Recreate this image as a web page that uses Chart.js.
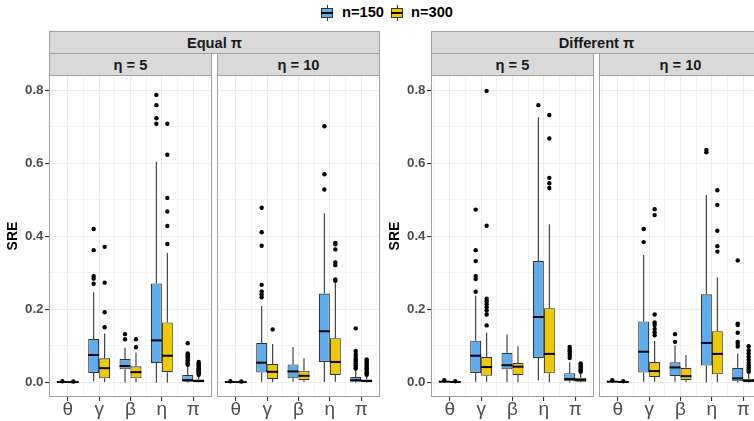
<!DOCTYPE html>
<html><head><meta charset="utf-8">
<script src="https://cdn.jsdelivr.net/npm/chart.js@4.4.1/dist/chart.umd.min.js"></script>
<style>
html,body{margin:0;padding:0;width:754px;height:421px;overflow:hidden;background:#fff;font-family:'Liberation Sans',Arial,sans-serif;}
.strip{position:absolute;box-sizing:border-box;background:#D9D9D9;border:1px solid #A0A0A0;color:#1A1A1A;font-weight:bold;font-size:14.67px;display:flex;align-items:center;justify-content:center;white-space:nowrap;}
canvas{position:absolute;top:75px;}
.lg{position:absolute;top:4px;font-weight:bold;font-size:14.67px;line-height:17px;color:#000;}
.key{position:absolute;top:5px;width:12px;height:16px;}
.key .wh{position:absolute;left:5.5px;top:0;width:1px;height:16px;background:#333;}
.key .bx{position:absolute;left:0;top:3px;width:12px;height:10px;box-sizing:border-box;border:1px solid #333;}
.key .md{position:absolute;left:0;top:7.2px;width:12px;height:1.6px;background:#000;}
</style></head>
<body>
<div class="key" style="left:321px"><div class="wh"></div><div class="bx" style="background:#5CACEE"></div><div class="md"></div></div>
<div class="lg" style="left:342px">n=150</div>
<div class="key" style="left:391px"><div class="wh"></div><div class="bx" style="background:#EEC900"></div><div class="md"></div></div>
<div class="lg" style="left:411px">n=300</div>

<div class="strip" style="left:49px;top:31px;width:331px;height:23px">Equal π</div>
<div class="strip" style="left:49px;top:53px;width:163px;height:23px">η = 5</div>
<div class="strip" style="left:217px;top:53px;width:163px;height:23px">η = 10</div>
<div class="strip" style="left:431px;top:31px;width:331px;height:23px">Different π</div>
<div class="strip" style="left:431px;top:53px;width:163px;height:23px">η = 5</div>
<div class="strip" style="left:599px;top:53px;width:163px;height:23px">η = 10</div>

<canvas id="c1" width="212" height="346" style="left:0px"></canvas>
<canvas id="c2" width="163" height="346" style="left:217px"></canvas>
<canvas id="c3" width="212" height="346" style="left:382px"></canvas>
<canvas id="c4" width="163" height="346" style="left:599px"></canvas>

<script>
const categories = ['θ', 'γ', 'β', 'η', 'π'];
const seriesLabels = ['n=150', 'n=300'];
const seriesColors = ['#5CACEE', '#EEC900'];

// box statistics per category: [lower whisker, Q1, median, Q3, upper whisker]
// Equal π, η = 5
const eq5_150 = [[0, 0.0005, 0.001, 0.0015, 0.002], [0.003, 0.026, 0.075, 0.119, 0.247], [0.000, 0.036, 0.045, 0.064, 0.095], [0.000, 0.053, 0.115, 0.271, 0.604], [0.000, 0.002, 0.006, 0.020, 0.045]];
const eq5_150_out = [[0.003], [0.420, 0.362, 0.291, 0.284, 0.270], [0.132, 0.118], [0.787, 0.759, 0.723, 0.708], [0.107, 0.079, 0.076, 0.072, 0.068, 0.064, 0.060, 0.056, 0.052, 0.048]];
const eq5_300 = [[0, 0.0004, 0.0008, 0.0012, 0.002], [0.001, 0.011, 0.039, 0.066, 0.134], [0.001, 0.011, 0.028, 0.044, 0.082], [0.000, 0.028, 0.073, 0.164, 0.354], [0.000, 0.001, 0.004, 0.008, 0.018]];
const eq5_300_out = [[0.0025], [0.371, 0.273, 0.192, 0.151], [0.118, 0.096], [0.708, 0.623, 0.505, 0.468, 0.428, 0.379], [0.056, 0.052, 0.048, 0.045, 0.042, 0.039, 0.036, 0.033, 0.030, 0.027, 0.024, 0.021]];
// Equal π, η = 10
const eq10_150 = [[0, 0.0005, 0.001, 0.0015, 0.002], [0.002, 0.027, 0.054, 0.108, 0.209], [0.002, 0.011, 0.030, 0.049, 0.097], [0.001, 0.056, 0.140, 0.243, 0.463], [0.000, 0.002, 0.006, 0.015, 0.035]];
const eq10_150_out = [[0.003], [0.478, 0.411, 0.374, 0.267, 0.249, 0.241, 0.233], [], [0.701, 0.570, 0.528], [0.148, 0.086, 0.078, 0.072, 0.067, 0.062, 0.057, 0.052, 0.047, 0.042, 0.038]];
const eq10_300 = [[0, 0.0004, 0.0008, 0.0012, 0.002], [0.001, 0.009, 0.029, 0.050, 0.105], [0.001, 0.006, 0.018, 0.032, 0.066], [0.002, 0.020, 0.056, 0.121, 0.272], [0.000, 0.001, 0.004, 0.008, 0.018]];
const eq10_300_out = [[0.0025], [0.145], [], [0.382, 0.378, 0.364, 0.328, 0.321, 0.282, 0.278], [0.063, 0.059, 0.055, 0.051, 0.047, 0.043, 0.039, 0.035, 0.031, 0.027, 0.024, 0.021]];
// Different π, η = 5
const dif5_150 = [[0, 0.001, 0.002, 0.003, 0.004], [0.002, 0.026, 0.073, 0.114, 0.238], [0.001, 0.036, 0.047, 0.081, 0.131], [0.005, 0.067, 0.179, 0.332, 0.726], [0.000, 0.003, 0.009, 0.025, 0.055]];
const dif5_150_out = [[0.006], [0.473, 0.362, 0.332, 0.291, 0.283, 0.248], [], [0.759], [0.097, 0.091, 0.085, 0.079, 0.073, 0.067]];
const dif5_300 = [[0, 0.0005, 0.001, 0.0015, 0.002], [0.002, 0.018, 0.042, 0.070, 0.136], [0.001, 0.020, 0.043, 0.053, 0.099], [0.001, 0.025, 0.078, 0.203, 0.433], [0.000, 0.002, 0.007, 0.013, 0.028]];
const dif5_300_out = [[0.003], [0.798, 0.429, 0.229, 0.222, 0.214, 0.206, 0.197, 0.186, 0.156], [], [0.732, 0.668, 0.560, 0.545, 0.532], [0.052, 0.048, 0.044, 0.040, 0.036, 0.032, 0.029]];
// Different π, η = 10
const dif10_150 = [[0, 0.001, 0.002, 0.003, 0.004], [0.002, 0.027, 0.084, 0.167, 0.349], [0.002, 0.017, 0.041, 0.055, 0.102], [0.000, 0.046, 0.108, 0.241, 0.513], [0.000, 0.003, 0.011, 0.040, 0.079]];
const dif10_150_out = [[0.006], [0.420, 0.384], [0.132, 0.111], [0.636, 0.630], [0.334, 0.161, 0.157, 0.136, 0.111, 0.105, 0.098]];
const dif10_300 = [[0, 0.0005, 0.001, 0.0015, 0.002], [0.002, 0.015, 0.031, 0.056, 0.113], [0.001, 0.006, 0.017, 0.040, 0.075], [0.001, 0.022, 0.078, 0.140, 0.287], [0.000, 0.001, 0.005, 0.010, 0.025]];
const dif10_300_out = [[0.003], [0.474, 0.458, 0.186, 0.164, 0.157, 0.146, 0.137, 0.129], [], [0.526, 0.486, 0.415, 0.373, 0.358], [0.099, 0.088, 0.079, 0.070, 0.062, 0.054, 0.047, 0.041, 0.035, 0.029]];

const FONT = "'Liberation Sans', Arial, sans-serif";
const isMajorY = v => Math.round(v * 10) % 2 === 0;

const boxPlugin = {
  id: 'boxplot',
  beforeDatasetsDraw(chart) {
    const ctx = chart.ctx, ys = chart.scales.y;
    ctx.save();
    ctx.strokeStyle = '#333333';
    ctx.lineWidth = 1.1;
    chart.data.datasets.forEach((ds, di) => {
      chart.getDatasetMeta(di).data.forEach((el, i) => {
        const s = ds.boxStats[i];
        ctx.beginPath();
        ctx.moveTo(el.x, ys.getPixelForValue(s[3]));
        ctx.lineTo(el.x, ys.getPixelForValue(s[4]));
        ctx.moveTo(el.x, ys.getPixelForValue(s[1]));
        ctx.lineTo(el.x, ys.getPixelForValue(s[0]));
        ctx.stroke();
      });
    });
    ctx.restore();
  },
  afterDatasetsDraw(chart) {
    const ctx = chart.ctx, ys = chart.scales.y;
    ctx.save();
    chart.data.datasets.forEach((ds, di) => {
      chart.getDatasetMeta(di).data.forEach((el, i) => {
        const s = ds.boxStats[i];
        const ym = ys.getPixelForValue(s[2]);
        ctx.strokeStyle = '#000';
        ctx.lineWidth = 2;
        ctx.beginPath();
        ctx.moveTo(el.x - el.width / 2, ym);
        ctx.lineTo(el.x + el.width / 2, ym);
        ctx.stroke();
        ctx.fillStyle = '#000';
        ds.outliers[i].forEach(v => {
          ctx.beginPath();
          ctx.arc(el.x, ys.getPixelForValue(v), 2.2, 0, Math.PI * 2);
          ctx.fill();
        });
      });
    });
    ctx.restore();
  },
  afterDraw(chart) {
    const a = chart.chartArea, ctx = chart.ctx;
    ctx.save();
    ctx.strokeStyle = '#A0A0A0';
    ctx.lineWidth = 1;
    ctx.strokeRect(a.left + 0.5, a.top + 0.5, a.right - a.left - 1, a.bottom - a.top - 1);
    ctx.restore();
  }
};

function makeChart(id, stats, outs, showY) {
  const datasets = stats.map((st, k) => ({
    label: seriesLabels[k],
    data: st.map((s, i) => ({ x: i, y: [s[1], s[3]] })),
    boxStats: st,
    outliers: outs[k],
    backgroundColor: seriesColors[k],
    borderColor: '#333333',
    borderWidth: 1.1,
    borderSkipped: false,
    categoryPercentage: 1.4,
    barPercentage: 1.0
  }));
  new Chart(document.getElementById(id), {
    type: 'bar',
    data: { datasets },
    options: {
      responsive: false,
      animation: false,
      events: [],
      layout: { padding: 0 },
      plugins: { legend: { display: false }, tooltip: { enabled: false } },
      scales: {
        x: {
          type: 'linear', min: -0.6, max: 4.6, offset: false,
          ticks: {
            stepSize: 0.5, includeBounds: false, autoSkip: false, maxRotation: 0,
            callback: v => Number.isInteger(v) ? categories[v] : '',
            font: { family: FONT, size: 19 }, color: '#4D4D4D', padding: -3
          },
          grid: {
            offset: false, drawTicks: true, tickLength: 4,
            color: c => (c.tick && Number.isInteger(c.tick.value)) ? '#EBEBEB' : '#F1F1F1',
            lineWidth: c => (c.tick && Number.isInteger(c.tick.value)) ? 1.1 : 0.8,
            tickColor: c => (c.tick && Number.isInteger(c.tick.value)) ? '#333333' : 'rgba(0,0,0,0)'
          },
          border: { display: false },
          afterFit: s => { s.height = 24; s.paddingLeft = 0; s.paddingRight = 0; }
        },
        y: {
          type: 'linear', min: -0.04, max: 0.8415,
          ticks: {
            display: showY, stepSize: 0.1, includeBounds: false, autoSkip: false,
            callback: v => isMajorY(v) ? v.toFixed(1) : '',
            font: { family: FONT, size: 13.33, weight: 'bold' }, color: '#4D4D4D', padding: 1.5
          },
          grid: {
            drawTicks: showY, tickLength: 4,
            color: c => (c.tick && isMajorY(c.tick.value)) ? '#EBEBEB' : '#F1F1F1',
            lineWidth: c => (c.tick && isMajorY(c.tick.value)) ? 1.1 : 0.8,
            tickColor: c => (c.tick && isMajorY(c.tick.value)) ? '#333333' : 'rgba(0,0,0,0)'
          },
          border: { display: false },
          title: {
            display: showY, text: 'SRE', color: '#000',
            font: { family: FONT, size: 14, weight: 'bold' }, padding: { top: 5, bottom: 0 }
          },
          afterFit: s => { s.width = showY ? 49 : 0; s.paddingTop = 0; s.paddingBottom = 0; }
        }
      }
    },
    plugins: [boxPlugin]
  });
}

makeChart('c1', [eq5_150, eq5_300], [eq5_150_out, eq5_300_out], true);
makeChart('c2', [eq10_150, eq10_300], [eq10_150_out, eq10_300_out], false);
makeChart('c3', [dif5_150, dif5_300], [dif5_150_out, dif5_300_out], true);
makeChart('c4', [dif10_150, dif10_300], [dif10_150_out, dif10_300_out], false);
</script>
</body></html>
